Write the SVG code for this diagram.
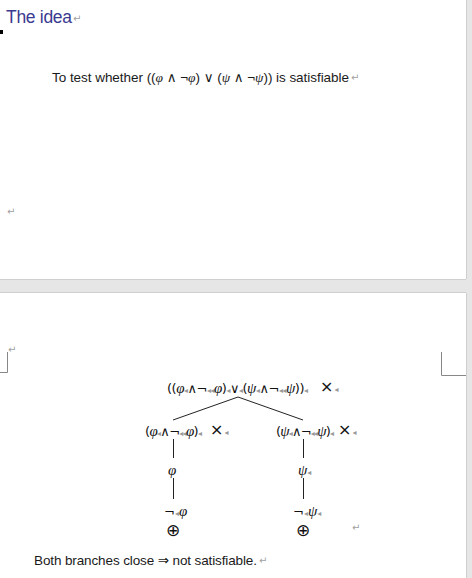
<svg xmlns="http://www.w3.org/2000/svg" width="472" height="578" viewBox="0 0 472 578">
<style>
.body{font-family:"Liberation Sans","DejaVu Sans",sans-serif;font-size:13.5px;fill:#1a1a1a}
.f{font-family:"DejaVu Sans","Liberation Sans",sans-serif;font-size:13px;fill:#111}
.i{font-family:"Liberation Serif","DejaVu Serif",serif;font-style:italic;font-size:15px}
.m{font-family:"DejaVu Sans",sans-serif;font-size:8px;fill:#9a9a9a;font-style:normal}
.ret{font-family:"DejaVu Sans",sans-serif;font-size:10px;fill:#a0a0a0}
.x{font-family:"DejaVu Sans",sans-serif;font-size:16px;fill:#111}
.o{font-family:"DejaVu Sans",sans-serif;font-size:17px;fill:#111}
.edge{stroke:#222;stroke-width:1;fill:none}
.crop{stroke:#888;stroke-width:1;fill:none}
</style>
<rect width="472" height="578" fill="#e6e6e6"/>
<rect x="0" y="0" width="466" height="279" fill="#fff"/>
<rect x="0" y="293" width="466" height="285" fill="#fff"/>
<line x1="0" y1="279.5" x2="466" y2="279.5" stroke="#cfcfcf"/>
<line x1="0" y1="292.5" x2="466" y2="292.5" stroke="#cfcfcf"/>
<line x1="466.5" y1="0" x2="466.5" y2="279" stroke="#cfcfcf"/>
<line x1="466.5" y1="293" x2="466.5" y2="578" stroke="#cfcfcf"/>

<g id="page1">
<text x="6" y="23" font-family="Liberation Sans,sans-serif" font-size="17.5" fill="#3a3a90" textLength="66">The idea</text>
<text x="73" y="22" class="ret">↵</text>
<rect x="0" y="30" width="3" height="4" fill="#000"/>
<text x="52" y="82" class="body" textLength="297">To test whether ((<tspan font-family="Liberation Serif,serif" font-style="italic">φ</tspan> ∧ ¬<tspan font-family="Liberation Serif,serif" font-style="italic">φ</tspan>) ∨ (<tspan font-family="Liberation Serif,serif" font-style="italic">ψ</tspan> ∧ ¬<tspan font-family="Liberation Serif,serif" font-style="italic">ψ</tspan>)) is satisfiable</text>
<text x="351" y="81" class="ret">↵</text>
<text x="7" y="215" class="ret">↵</text>
</g>

<g id="page2-marks">
<text x="8" y="353" class="ret">↵</text>
<polyline class="crop" points="0,372.5 7.5,372.5 7.5,352"/>
<polyline class="crop" points="441.5,352 441.5,375.5 466,375.5"/>
<text x="352" y="531" class="ret">↵</text>
</g>

<g id="connectors">
<line class="edge" x1="238" y1="397" x2="173" y2="420"/>
<line class="edge" x1="238" y1="397" x2="303" y2="420"/>
<line class="edge" x1="173.5" y1="439" x2="173.5" y2="458"/>
<line class="edge" x1="303.5" y1="439" x2="303.5" y2="458"/>
<line class="edge" x1="173.5" y1="478" x2="173.5" y2="499"/>
<line class="edge" x1="303.5" y1="478" x2="303.5" y2="499"/>
</g>

<g id="root">
<text x="167" y="393" class="f" textLength="141">((<tspan class="i">φ</tspan><tspan class="m">◂</tspan>∧¬<tspan class="m">◂◂</tspan><tspan class="i">φ</tspan>)<tspan class="m">◂</tspan>∨<tspan class="m">◂</tspan>(<tspan class="i">ψ</tspan><tspan class="m">◂</tspan>∧¬<tspan class="m">◂◂</tspan><tspan class="i">ψ</tspan>))<tspan class="m">◂</tspan></text>
<text x="320" y="392" class="x">×<tspan class="m" dx="1">◂</tspan></text>
</g>

<g id="left-child">
<text x="145" y="436" class="f" textLength="57">(<tspan class="i">φ</tspan><tspan class="m">◂</tspan>∧¬<tspan class="m">◂◂</tspan><tspan class="i">φ</tspan>)<tspan class="m">◂</tspan></text>
<text x="210" y="435" class="x">×<tspan class="m" dx="1">◂</tspan></text>
</g>

<g id="right-child">
<text x="276" y="436" class="f" textLength="58">(<tspan class="i">ψ</tspan><tspan class="m">◂</tspan>∧¬<tspan class="m">◂◂</tspan><tspan class="i">ψ</tspan>)<tspan class="m">◂</tspan></text>
<text x="338" y="435" class="x">×<tspan class="m" dx="1">◂</tspan></text>
</g>

<g id="left-phi">
<text x="168" y="475" class="f"><tspan class="i">φ</tspan></text>
</g>
<g id="right-psi">
<text x="298" y="475" class="f"><tspan class="i">ψ</tspan><tspan class="m">◂</tspan></text>
</g>
<g id="left-negphi">
<text x="164" y="516" class="f">¬<tspan class="m">◂</tspan><tspan class="i">φ</tspan></text>
</g>
<g id="right-negpsi">
<text x="293" y="516" class="f">¬<tspan class="m">◂</tspan><tspan class="i">ψ</tspan><tspan class="m">◂</tspan></text>
</g>
<g id="left-close">
<text x="166" y="536" class="o">⊕</text>
</g>
<g id="right-close">
<text x="296" y="536" class="o">⊕</text>
</g>

<g id="conclusion">
<text x="34" y="565" class="body" textLength="223">Both branches close ⇒ not satisfiable.</text>
<text x="259" y="564" class="ret">↵</text>
</g>
</svg>
